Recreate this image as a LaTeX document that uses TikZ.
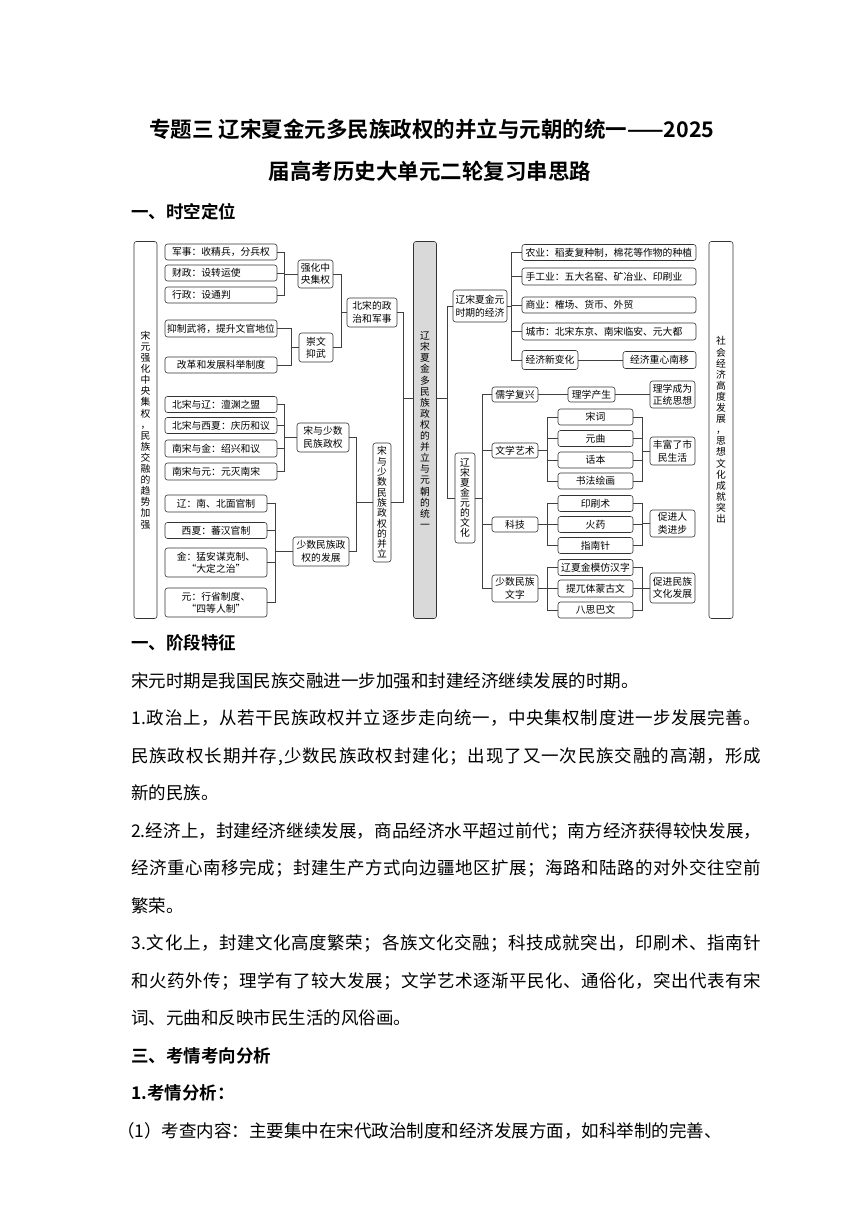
\documentclass[tikz,border=0pt]{standalone}
\usepackage{fontspec}
\setmainfont{Noto Sans CJK SC}[BoldFont={Noto Sans CJK SC Bold}]
\newcommand\mydgm{\fontsize{9.8}{12.5}\selectfont}
\newcommand\myvert{\fontsize{9.8}{11.1}\selectfont}
\newcommand\mybody{\fontsize{17.5}{21}\selectfont}
\newcommand\mytitle{\fontsize{21.5}{26}\selectfont\bfseries}
\def\jfirst#1{#1\jrest}
\def\jrest#1{\ifx\relax#1\else\hfil#1\expandafter\jrest\fi}
\newcommand\jline[1]{\hbox to 630pt{\jfirst#1\relax}}
\begin{document}
\begin{tikzpicture}[x=1pt,y=-1pt,
  box/.style={draw=black!80, line width=0.6pt, rounded corners=2.5pt, inner sep=0pt, align=center, font=\mydgm},
  boxl/.style={box, inner xsep=7pt, text width=98pt, align=left},
  boxe/.style={box, inner xsep=3.5pt, text width=167pt, align=left, minimum height=16pt},
  vbox/.style={box, font=\myvert},
  ln/.style={draw=black!75, line width=0.6pt},
  body/.style={anchor=base west, inner sep=0pt, font=\mybody},
]
\useasboundingbox (0,0) rectangle (860,1216);
% ---------- title ----------
\node[anchor=base, inner sep=0pt, font=\mytitle] (title1) at (432,137.8) {专题三 辽宋夏金元多民族政权的并立与元朝的统一——2025};
\node[anchor=base, inner sep=0pt, font=\mytitle] (title2) at (430,179.8) {届高考历史大单元二轮复习串思路};
\node[body, font=\mybody\bfseries] (h1) at (131,218.5) {一、时空定位};
% ---------- diagram: left ----------
\node[vbox, minimum width=23pt, minimum height=377pt] (L) at (145.5,430) {宋\\元\\强\\化\\中\\央\\集\\权\\，\\民\\族\\交\\融\\的\\趋\\势\\加\\强};
\node[boxl, minimum height=16pt] (a1) at (221,252) {军事：收精兵，分兵权};
\node[boxl, minimum height=16pt] (a2) at (221,273) {财政：设转运使};
\node[boxl, minimum height=16pt] (a3) at (221,295) {行政：设通判};
\node[box, minimum width=112pt, minimum height=17pt] (a4) at (221,328.5) {抑制武将，提升文官地位};
\node[box, minimum width=112pt, minimum height=16pt] (a5) at (221,365) {改革和发展科举制度};
\node[boxl, minimum height=16pt] (a6) at (221,404.5) {北宋与辽：澶渊之盟};
\node[boxl, minimum height=16pt] (a7) at (221,425.5) {北宋与西夏：庆历和议};
\node[boxl, minimum height=17pt] (a8) at (221,448.5) {南宋与金：绍兴和议};
\node[boxl, minimum height=17pt] (a9) at (221,471.5) {南宋与元：元灭南宋};
\node[box, minimum width=102pt, minimum height=17pt] (a10) at (216,503.5) {辽：南、北面官制};
\node[box, minimum width=102pt, minimum height=16pt] (a11) at (216,530.5) {西夏：蕃汉官制};
\node[box, minimum width=102pt, minimum height=29pt] (a12) at (216,562.5) {金：猛安谋克制、\\“大定之治”};
\node[box, minimum width=102pt, minimum height=29pt] (a13) at (216,602.5) {元：行省制度、\\“四等人制”};
\node[box, minimum width=35pt, minimum height=28pt] (b1) at (315.5,274) {强化中\\央集权};
\node[box, minimum width=34pt, minimum height=29pt] (b2) at (316,347.5) {崇文\\抑武};
\node[box, minimum width=52pt, minimum height=29pt] (b3) at (323,437.5) {宋与少数\\民族政权};
\node[box, minimum width=56pt, minimum height=29pt] (b4) at (321,551.5) {少数民族政\\权的发展};
\node[box, minimum width=50pt, minimum height=29pt] (c1) at (372,312.5) {北宋的政\\治和军事};
\node[vbox, minimum width=18pt, minimum height=119pt, font=\fontsize{9.8}{10.3}\selectfont] (c2) at (382,502.5) {宋\\与\\少\\数\\民\\族\\政\\权\\的\\并\\立};
\node[vbox, fill=black!15, minimum width=23pt, minimum height=377pt] (cb) at (425,430) {辽\\宋\\夏\\金\\多\\民\\族\\政\\权\\的\\并\\立\\与\\元\\朝\\的\\统\\一};
% ---------- diagram: right ----------
\node[vbox, minimum width=24pt, minimum height=377pt] (R) at (721,430) {社\\会\\经\\济\\高\\度\\发\\展\\，\\思\\想\\文\\化\\成\\就\\突\\出};
\node[box, minimum width=54pt, minimum height=32pt] (e0) at (480,306) {辽宋夏金元\\时期的经济};
\node[boxe] (e1) at (609,252.5) {农业：稻麦复种制，棉花等作物的种植};
\node[boxe, minimum height=17pt] (e2) at (609,276.5) {手工业：五大名窑、矿冶业、印刷业};
\node[boxe] (e3) at (609,305) {商业：榷场、货币、外贸};
\node[boxe, minimum height=17pt] (e4) at (609,331.5) {城市：北宋东京、南宋临安、元大都};
\node[box, minimum width=56pt, minimum height=19pt] (e5) at (550,360) {经济新变化};
\node[box, minimum width=73pt, minimum height=17pt] (e6) at (659.5,360) {经济重心南移};
\node[vbox, minimum width=20pt, minimum height=90pt, font=\fontsize{9.8}{10}\selectfont] (f0) at (465,498) {辽\\宋\\夏\\金\\元\\的\\文\\化};
\node[box, minimum width=46pt, minimum height=15pt] (f1) at (515,394.5) {儒学复兴};
\node[box, minimum width=46pt, minimum height=15pt] (f2) at (515,450.5) {文学艺术};
\node[box, minimum width=46pt, minimum height=15pt] (f3) at (515,524.5) {科技};
\node[box, minimum width=46pt, minimum height=27pt] (f4) at (515,588.5) {少数民族\\文字};
\node[box, minimum width=47pt, minimum height=15pt] (g1) at (591.5,394.5) {理学产生};
\node[box, minimum width=45pt, minimum height=27pt] (g2) at (672.5,394.5) {理学成为\\正统思想};
\node[box, minimum width=75pt, minimum height=16pt] (h1b) at (595.5,417) {宋词};
\node[box, minimum width=75pt, minimum height=16pt] (h2b) at (595.5,438.5) {元曲};
\node[box, minimum width=75pt, minimum height=16pt] (h3b) at (595.5,460) {话本};
\node[box, minimum width=75pt, minimum height=16pt] (h4b) at (595.5,481) {书法绘画};
\node[box, minimum width=45pt, minimum height=28pt] (i1) at (672.5,451) {丰富了市\\民生活};
\node[box, minimum width=75pt, minimum height=16pt] (j1) at (595.5,503.5) {印刷术};
\node[box, minimum width=75pt, minimum height=16pt] (j2) at (595.5,524.5) {火药};
\node[box, minimum width=75pt, minimum height=16pt] (j3) at (595.5,545.5) {指南针};
\node[box, minimum width=45pt, minimum height=27pt] (k1) at (672.5,523.5) {促进人\\类进步};
\node[box, minimum width=75pt, minimum height=16pt] (l1) at (595.5,567.5) {辽夏金模仿汉字};
\node[box, minimum width=75pt, minimum height=17pt] (l2) at (595.5,588.5) {提兀体蒙古文};
\node[box, minimum width=75pt, minimum height=16pt] (l3) at (595.5,610) {八思巴文};
\node[box, minimum width=45pt, minimum height=30pt] (m1) at (672.5,588) {促进民族\\文化发展};
% ---------- connectors ----------
\foreach \c in {a1,a2,a3} \draw[ln] (\c.east) -| ([xshift=-13pt]b1.west) -- (b1.west);
\foreach \c in {a4,a5} \draw[ln] (\c.east) -| ([xshift=-7pt]b2.west) -- (b2.west);
\foreach \c in {a6,a7,a8,a9} \draw[ln] (\c.east) -| ([xshift=-12pt]b3.west) -- (b3.west);
\foreach \c in {a10,a11,a12,a13} \draw[ln] (\c.east) -| ([xshift=-17pt]b4.west) -- (b4.west);
\foreach \c in {b1,b2} \draw[ln] (\c.east) -| ([xshift=-5pt]c1.west) -- (c1.west);
\foreach \c in {b3,b4} \draw[ln] (\c.east) -| ([xshift=-16pt]c2.west) -- (c2.west);
\coordinate (jL) at (403,398);
\coordinate (jR) at (447,398);
\draw[ln] (c1.east) -| (jL) -- (jL -| cb.west);
\draw[ln] (c2.east) -| (jL);
\draw[ln] (jL -| cb.east) -- (jR);
\draw[ln] (jR) |- (e0.west);
\draw[ln] (jR) |- (f0.west);
\foreach \c in {e1,e2,e3,e4,e5} \draw[ln] (e0.east) -| ([xshift=-10pt]\c.west) -- (\c.west);
\draw[ln] (e5.east) -- (e6.west);
\foreach \c in {f1,f2,f3,f4} \draw[ln] (f0.east) -| ([xshift=-9pt]\c.west) -- (\c.west);
\draw[ln] (f1.east) -- (g1.west);
\draw[ln] (g1.east) -- (g2.west);
\foreach \c in {h1b,h2b,h3b,h4b} {
  \draw[ln] (f2.east) -| ([xshift=-10pt]\c.west) -- (\c.west);
  \draw[ln] (\c.east) -| ([xshift=-7pt]i1.west) -- (i1.west);
}
\foreach \c in {j1,j2,j3} {
  \draw[ln] (f3.east) -| ([xshift=-10pt]\c.west) -- (\c.west);
  \draw[ln] (\c.east) -| ([xshift=-7pt]k1.west) -- (k1.west);
}
\foreach \c in {l1,l2,l3} {
  \draw[ln] (f4.east) -| ([xshift=-10pt]\c.west) -- (\c.west);
  \draw[ln] (\c.east) -| ([xshift=-7pt]m1.west) -- (m1.west);
}
% ---------- body text ----------
\node[body, font=\mybody\bfseries] (h2) at (131,649.5) {一、阶段特征};
\node[body] (t1) at (131,687.5) {宋元时期是我国民族交融进一步加强和封建经济继续发展的时期。};
\node[body] (t2) at (131,724.5) {\jline{1.政治上，从若干民族政权并立逐步走向统一，中央集权制度进一步发展完善。}};
\node[body] (t3) at (131,762.5) {\jline{民族政权长期并存,少数民族政权封建化；出现了又一次民族交融的高潮，形成}};
\node[body] (t4) at (131,799.5) {新的民族。};
\node[body] (t5) at (131,837.5) {\jline{2.经济上，封建经济继续发展，商品经济水平超过前代；南方经济获得较快发展，}};
\node[body] (t6) at (131,874.5) {\jline{经济重心南移完成；封建生产方式向边疆地区扩展；海路和陆路的对外交往空前}};
\node[body] (t7) at (131,912.5) {繁荣。};
\node[body] (t8) at (131,949.5) {\jline{3.文化上，封建文化高度繁荣；各族文化交融；科技成就突出，印刷术、指南针}};
\node[body] (t9) at (131,987.5) {\jline{和火药外传；理学有了较大发展；文学艺术逐渐平民化、通俗化，突出代表有宋}};
\node[body] (t10) at (131,1024.5) {词、元曲和反映市民生活的风俗画。};
\node[body, font=\mybody\bfseries] (h3) at (131,1062.5) {三、考情考向分析};
\node[body, font=\mybody\bfseries] (h4) at (131,1099.5) {1.考情分析：};
\node[body] (t11) at (117,1137.5) {（1）考查内容：主要集中在宋代政治制度和经济发展方面，如科举制的完善、};
\end{tikzpicture}
\end{document}
